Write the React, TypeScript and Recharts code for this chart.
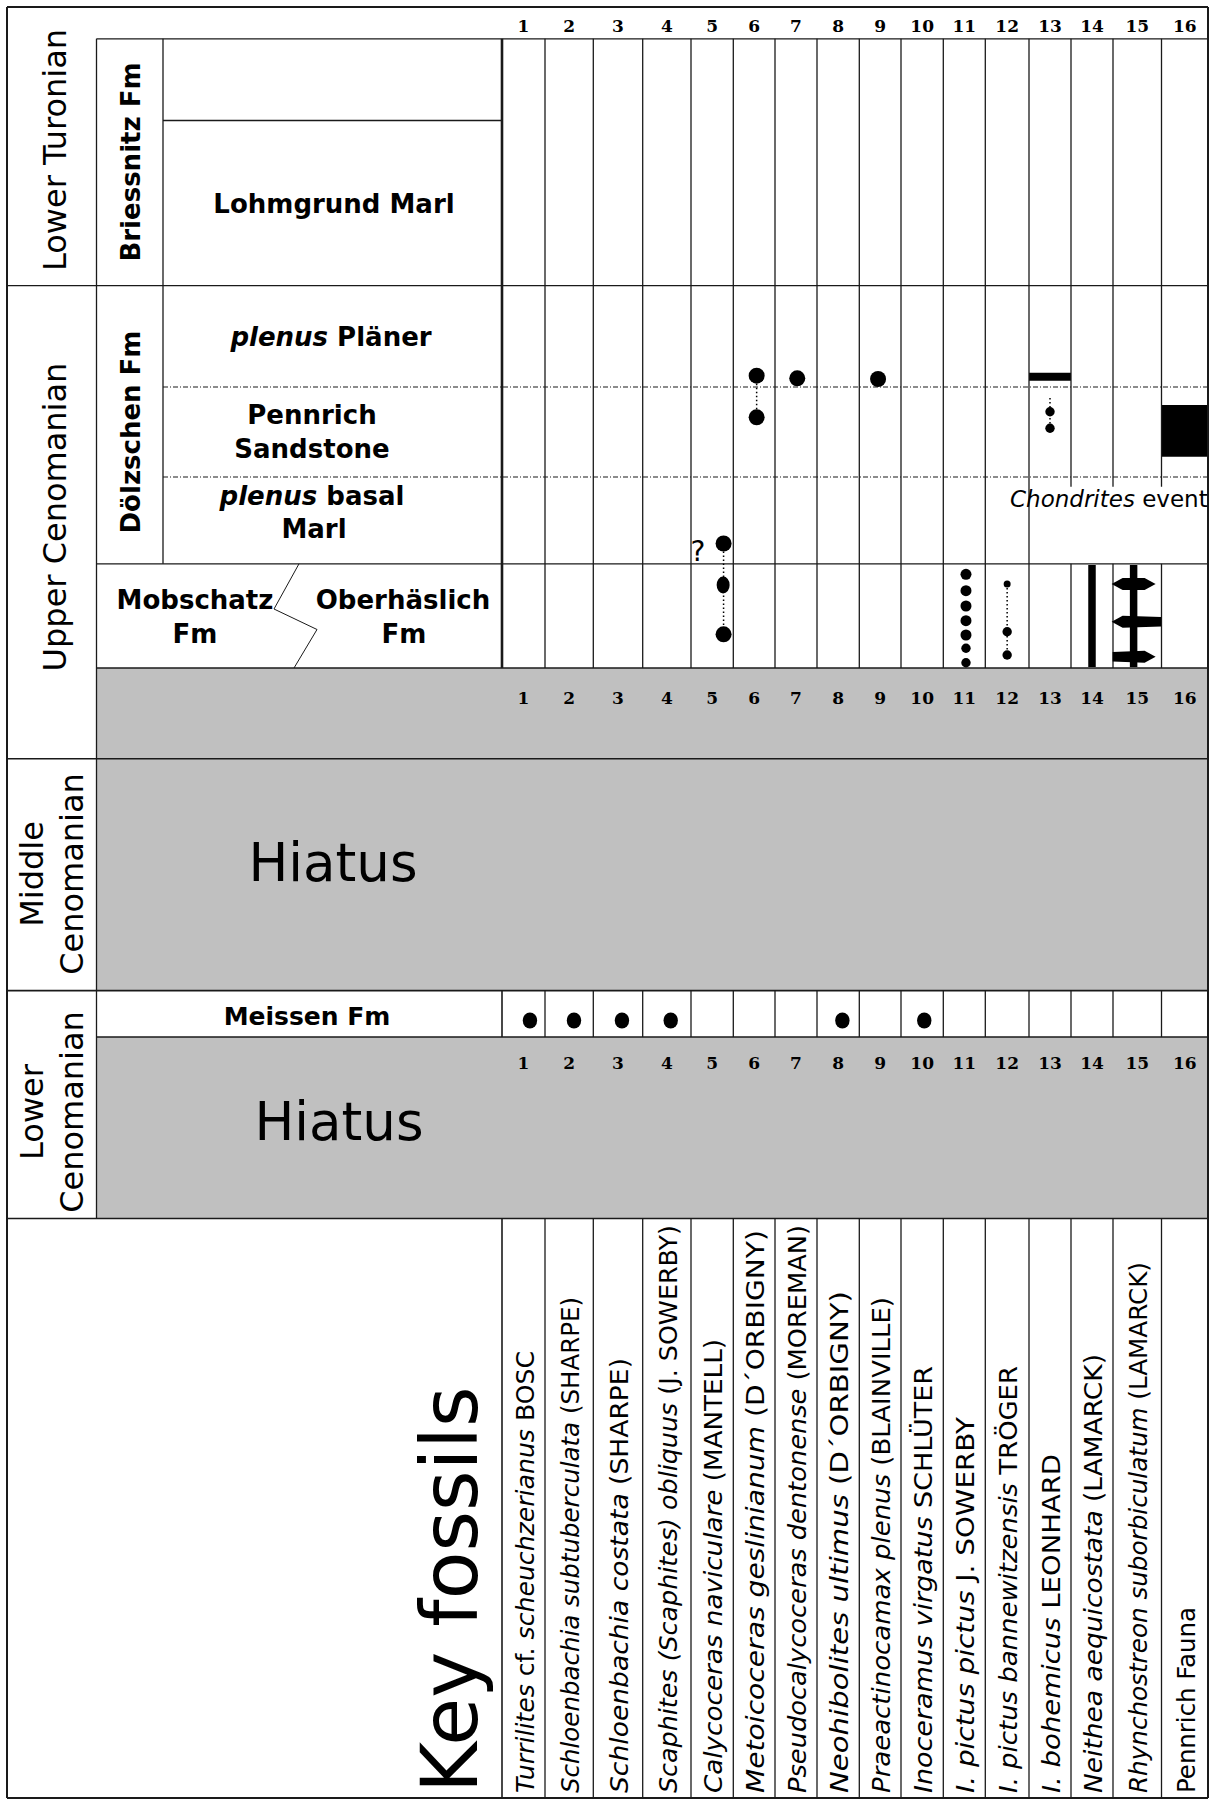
import React from "react";
import {
  ComposedChart,
  XAxis,
  YAxis,
  Scatter,
  ReferenceLine,
  ReferenceArea,
} from "recharts";

type Part = [string, boolean];
const it = (s: string): Part => [s, true];
const rm = (s: string): Part => [s, false];

// ---------- data ----------
const taxonNumbers = [1, 2, 3, 4, 5, 6, 7, 8, 9, 10, 11, 12, 13, 14, 15, 16];

const taxonNames: Part[][] = [
  [it("Turrilites"), rm(" cf. "), it("scheuchzerianus"), rm(" BOSC")],
  [it("Schloenbachia subtuberculata"), rm(" (SHARPE)")],
  [it("Schloenbachia costata"), rm(" (SHARPE)")],
  [it("Scaphites (Scaphites) obliquus"), rm(" (J. SOWERBY)")],
  [it("Calycoceras naviculare"), rm(" (MANTELL)")],
  [it("Metoicoceras geslinianum"), rm(" (D´ORBIGNY)")],
  [it("Pseudocalycoceras dentonense"), rm(" (MOREMAN)")],
  [it("Neohibolites ultimus"), rm(" (D´ORBIGNY)")],
  [it("Praeactinocamax plenus"), rm(" (BLAINVILLE)")],
  [it("Inoceramus virgatus"), rm(" SCHLÜTER")],
  [it("I. pictus pictus"), rm(" J. SOWERBY")],
  [it("I. pictus bannewitzensis"), rm(" TRÖGER")],
  [it("I. bohemicus"), rm(" LEONHARD")],
  [it("Neithea aequicostata"), rm(" (LAMARCK)")],
  [it("Rhynchostreon suborbiculatum"), rm(" (LAMARCK)")],
  [rm("Pennrich Fauna")],
];
// measured length of each name along the column
const taxonNameLength = [442, 496, 435, 568, 454, 563, 568, 502, 496, 427, 376, 427, 339, 439, 531, 186];

const stages = ["Lower Turonian", "Upper Cenomanian", "Middle Cenomanian", "Lower Cenomanian"];
const formations = ["Briessnitz Fm", "Dölzschen Fm"];

// point occurrences: taxon column (fraction = offset inside column), level (chart depth units)
const dotOccurrences = [
  { taxon: 5.27, level: 543.5, kind: "large" },
  { taxon: 5.26, level: 585, kind: "oval" },
  { taxon: 5.27, level: 634.3, kind: "large" },
  { taxon: 6.06, level: 375.7, kind: "large" },
  { taxon: 6.06, level: 417.3, kind: "large" },
  { taxon: 7.03, level: 378.3, kind: "large" },
  { taxon: 8.95, level: 379, kind: "large" },
  { taxon: 11.04, level: 574.3, kind: "medium" },
  { taxon: 11.04, level: 590.7, kind: "medium" },
  { taxon: 11.04, level: 606, kind: "medium" },
  { taxon: 11.04, level: 620.7, kind: "medium" },
  { taxon: 11.04, level: 635, kind: "medium" },
  { taxon: 11.04, level: 648.3, kind: "small" },
  { taxon: 11.04, level: 662.7, kind: "small" },
  { taxon: 12, level: 584, kind: "tiny" },
  { taxon: 12, level: 631.7, kind: "small" },
  { taxon: 12, level: 655, kind: "small" },
  { taxon: 13, level: 411.7, kind: "small" },
  { taxon: 13, level: 428.3, kind: "small" },
  { taxon: 1.15, level: 1020.5, kind: "meissen" },
  { taxon: 2.1, level: 1020.5, kind: "meissen" },
  { taxon: 3.08, level: 1020.5, kind: "meissen" },
  { taxon: 4.08, level: 1020.5, kind: "meissen" },
  { taxon: 8.1, level: 1020.5, kind: "meissen" },
  { taxon: 10.05, level: 1020.5, kind: "meissen" },
];

// uncertain ranges (dotted connectors)
const dottedRanges = [
  { taxon: 5.27, from: 543.5, to: 634.3 },
  { taxon: 6.06, from: 375.7, to: 417.3 },
  { taxon: 12, from: 584, to: 655 },
  { taxon: 13, from: 398, to: 428.3 },
];
// proven ranges (solid bars)
const solidRanges = [
  { taxon: 14, from: 565, to: 667 },
  { taxon: 14.925, from: 565, to: 667 },
];
// full-column blocks
const blocks = [
  { taxon: 13, from: 372.7, to: 380.7 },
  { taxon: 16, from: 405, to: 456.7 },
];
// abundance spindles on taxon 15
const spindles = [
  { taxon: 14.925, level: 584, left: "point", right: "point" },
  { taxon: 14.925, level: 621.7, left: "point", right: "flat" },
  { taxon: 14.925, level: 656.7, left: "flat", right: "point" },
];

// ---------- layout ----------
const W = 1212;
const H = 1803;
const SANS = "'DejaVu Sans', Verdana, sans-serif";
const SERIF = "'DejaVu Serif', Georgia, serif";
const INK = "#1a1a1a";

const colEdges = [502, 545, 593.3, 642.7, 691, 733.3, 775, 817, 859.3, 901, 943.3, 985.3, 1029, 1071, 1113, 1161.5, 1208];
const taxonX = (t: number) => {
  const i = Math.min(15, Math.max(0, Math.round(t) - 1));
  const l = colEdges[i];
  const r = colEdges[i + 1];
  return (l + r) / 2 + (t - (i + 1)) * (r - l);
};

const X_LEFT = 7, X_AGE = 96.5, X_FM = 163, X_TAXA = 502, X_RIGHT = 1208;
const Y_TOP = 7, Y_HEAD = 38.8, Y_BRIESS = 120.5, Y_TUR = 285.7, Y_DOT1 = 387, Y_DOT2 = 477,
  Y_CHOND = 486.7, Y_MOB = 563.8, Y_GAP1 = 668, Y_MID = 758.8, Y_MEIS = 990.6, Y_GAP2 = 1037,
  Y_KEY = 1218.5, Y_BOT = 1798;

type Seg = { x1: number; y1: number; x2: number; y2: number; w?: number; dash?: string };
const segs: Seg[] = [];
const h = (y: number, x1: number, x2: number, w = 1.3, dash?: string) => segs.push({ x1, y1: y, x2, y2: y, w, dash });
const v = (x: number, y1: number, y2: number, w = 1.3, dash?: string) => segs.push({ x1: x, y1, x2: x, y2, w, dash });

h(Y_HEAD, X_AGE, X_RIGHT);
h(Y_BRIESS, X_FM, X_TAXA);
h(Y_TUR, X_LEFT, X_RIGHT);
h(Y_DOT1, X_FM, X_RIGHT, 1.2, "5 2 1 2");
h(Y_DOT2, X_FM, X_RIGHT, 1.2, "5 2 1 2");
h(Y_MOB, X_AGE, X_RIGHT);
h(Y_GAP1, X_AGE, X_RIGHT, 1.6);
h(Y_MID, X_LEFT, X_RIGHT, 1.6);
h(Y_MEIS, X_LEFT, X_RIGHT, 1.6);
h(Y_GAP2, X_AGE, X_RIGHT, 1.6);
h(Y_KEY, X_LEFT, X_RIGHT, 1.6);
v(X_AGE, Y_HEAD, Y_KEY);
v(X_FM, Y_HEAD, Y_MOB);
v(X_TAXA, Y_HEAD, Y_GAP1, 2.6);
v(X_TAXA, Y_MEIS, Y_GAP2, 1.6);
v(X_TAXA, Y_KEY, Y_BOT, 1.6);
colEdges.slice(1, 16).forEach((x, i) => {
  if (i >= 12) {
    v(x, Y_HEAD, Y_CHOND);
    v(x, Y_MOB, Y_GAP1);
  } else {
    v(x, Y_HEAD, Y_GAP1);
  }
  v(x, Y_MEIS, Y_GAP2);
  v(x, Y_KEY, Y_BOT);
});
// Mobschatz / Oberhaslich interfingering
const zig = [[299, Y_MOB], [274, 609], [317, 629.5], [294, Y_GAP1]];
for (let i = 0; i < zig.length - 1; i++) {
  segs.push({ x1: zig[i][0], y1: zig[i][1], x2: zig[i + 1][0], y2: zig[i + 1][1], w: 1 });
}
// outer frame
h(Y_TOP, X_LEFT, X_RIGHT, 2);
h(Y_BOT, X_LEFT, X_RIGHT, 2);
v(X_LEFT, Y_TOP, Y_BOT, 2);
v(X_RIGHT, Y_TOP, Y_BOT, 2);

type Label = {
  x: number;
  y: number;
  parts: Part[];
  size: number;
  bold?: boolean;
  rotate?: boolean;
  anchor?: "start" | "middle" | "end";
  central?: boolean;
  serif?: boolean;
  len?: number;
};

const labels: Label[] = [
  { x: 55, y: 150, parts: [rm(stages[0])], size: 32, rotate: true, central: true },
  { x: 55, y: 517, parts: [rm(stages[1])], size: 32, rotate: true, central: true },
  { x: 32, y: 874, parts: [rm(stages[2].split(" ")[0])], size: 32, rotate: true, central: true },
  { x: 72, y: 874, parts: [rm(stages[2].split(" ")[1])], size: 32, rotate: true, central: true },
  { x: 32, y: 1112, parts: [rm(stages[3].split(" ")[0])], size: 32, rotate: true, central: true },
  { x: 72, y: 1112, parts: [rm(stages[3].split(" ")[1])], size: 32, rotate: true, central: true },
  { x: 131, y: 162, parts: [rm(formations[0])], size: 26, bold: true, rotate: true, central: true },
  { x: 131, y: 432, parts: [rm(formations[1])], size: 26, bold: true, rotate: true, central: true },
  { x: 334, y: 213.4, parts: [rm("Lohmgrund Marl")], size: 26, bold: true },
  { x: 331, y: 346, parts: [it("plenus"), rm(" Pläner")], size: 26, bold: true },
  { x: 312, y: 424, parts: [rm("Pennrich")], size: 26, bold: true },
  { x: 312, y: 457.6, parts: [rm("Sandstone")], size: 26, bold: true },
  { x: 312, y: 504.5, parts: [it("plenus"), rm(" basal")], size: 26, bold: true },
  { x: 314, y: 538, parts: [rm("Marl")], size: 26, bold: true },
  { x: 195, y: 609.4, parts: [rm("Mobschatz")], size: 26, bold: true },
  { x: 195, y: 643, parts: [rm("Fm")], size: 26, bold: true },
  { x: 403, y: 609.4, parts: [rm("Oberhäslich")], size: 26, bold: true },
  { x: 404, y: 643, parts: [rm("Fm")], size: 26, bold: true },
  { x: 307, y: 1025, parts: [rm("Meissen Fm")], size: 25, bold: true },
  { x: 333, y: 881, parts: [rm("Hiatus")], size: 53 },
  { x: 339, y: 1140, parts: [rm("Hiatus")], size: 53 },
  { x: 450, y: 1793, parts: [rm("Key fossils")], size: 78, rotate: true, central: true, anchor: "start" },
  { x: 1010, y: 507, parts: [it("Chondrites"), rm(" event")], size: 23, anchor: "start" },
  { x: 698, y: 561, parts: [rm("?")], size: 28 },
  ...[26, 697.5, 1063.4].flatMap((y) =>
    taxonNumbers.map((n) => ({ x: taxonX(n), y, parts: [rm(String(n))], size: 17, bold: true, serif: true, central: true }))
  ),
  ...taxonNames.map((parts, i) => ({
    x: taxonX(taxonNumbers[i]) + 1,
    y: 1793,
    parts,
    size: 25,
    rotate: true,
    central: true,
    anchor: "start" as const,
    len: taxonNameLength[i],
  })),
];

const TextShape = (props: any) => {
  const { cx, cy, payload } = props;
  const p = payload as Label;
  return (
    <text
      x={cx}
      y={cy}
      transform={p.rotate ? `rotate(-90 ${cx} ${cy})` : undefined}
      textAnchor={p.anchor ?? "middle"}
      dominantBaseline={p.central ? "central" : "alphabetic"}
      fontFamily={p.serif ? SERIF : SANS}
      fontSize={p.size}
      fontWeight={p.bold ? "bold" : "normal"}
      fill="#000"
      style={{ whiteSpace: "pre" }}
      textLength={p.len}
      lengthAdjust={p.len ? "spacingAndGlyphs" : undefined}
    >
      {p.parts.map(([t, ital], i) => (
        <tspan key={i} fontStyle={ital ? "italic" : "normal"}>
          {t}
        </tspan>
      ))}
    </text>
  );
};

const dotSize: Record<string, [number, number]> = {
  large: [8, 8],
  oval: [6.5, 8.5],
  medium: [5.5, 5.5],
  small: [4.7, 4.7],
  tiny: [3.5, 3.5],
  meissen: [7.2, 8],
};

const DotShape = (props: any) => {
  const { cx, cy, payload } = props;
  const [rx, ry] = dotSize[payload.kind];
  return <ellipse cx={cx} cy={cy} rx={rx} ry={ry} fill="#000" />;
};

const SpindleShape = (props: any) => {
  const { cx, cy, payload } = props;
  const hh = 6;
  const pts: number[][] = [];
  if (payload.left === "point") pts.push([cx - 22, cy], [cx - 11, cy - hh]);
  else pts.push([cx - 21, cy - hh * 0.8]);
  if (payload.right === "point") pts.push([cx + 11, cy - hh], [cx + 22, cy], [cx + 11, cy + hh]);
  else pts.push([cx + 27.5, cy - hh * 0.8], [cx + 27.5, cy + hh * 0.8]);
  if (payload.left === "point") pts.push([cx - 11, cy + hh]);
  else pts.push([cx - 21, cy + hh * 0.8]);
  return <polygon points={pts.map((p) => p.join(",")).join(" ")} fill="#000" />;
};

const textData = labels.map((l) => ({ ...l }));
const dotData = dotOccurrences.map((d) => ({ x: taxonX(d.taxon), y: d.level, kind: d.kind }));
const spindleData = spindles.map((s) => ({ x: taxonX(s.taxon), y: s.level, left: s.left, right: s.right }));

export default function App() {
  return (
    <div style={{ position: "absolute", left: 0, top: 0, width: W, height: H, background: "#fff" }}>
      <ComposedChart width={W} height={H} margin={{ top: 0, right: 0, bottom: 0, left: 0 }}>
        <XAxis type="number" dataKey="x" domain={[0, W]} hide allowDataOverflow />
        <YAxis type="number" dataKey="y" domain={[0, H]} reversed hide allowDataOverflow />
        <ReferenceArea x1={X_AGE} x2={X_RIGHT} y1={Y_GAP1} y2={Y_MEIS} fill="#c0c0c0" fillOpacity={1} stroke="none" />
        <ReferenceArea x1={X_AGE} x2={X_RIGHT} y1={Y_GAP2} y2={Y_KEY} fill="#c0c0c0" fillOpacity={1} stroke="none" />
        {segs.map((s, i) => (
          <ReferenceLine
            key={`s${i}`}
            segment={[{ x: s.x1, y: s.y1 }, { x: s.x2, y: s.y2 }]}
            stroke={INK}
            strokeWidth={s.w}
            strokeDasharray={s.dash}
            ifOverflow="visible"
          />
        ))}
        {blocks.map((b, i) => {
          const c = Math.round(b.taxon) - 1;
          return (
            <ReferenceArea
              key={`b${i}`}
              x1={colEdges[c]}
              x2={colEdges[c + 1]}
              y1={b.from}
              y2={b.to}
              fill="#000"
              fillOpacity={1}
              stroke="none"
            />
          );
        })}
        {solidRanges.map((r, i) => (
          <ReferenceLine
            key={`r${i}`}
            segment={[{ x: taxonX(r.taxon), y: r.from }, { x: taxonX(r.taxon), y: r.to }]}
            stroke="#000"
            strokeWidth={7.5}
          />
        ))}
        {dottedRanges.map((r, i) => (
          <ReferenceLine
            key={`d${i}`}
            segment={[{ x: taxonX(r.taxon), y: r.from }, { x: taxonX(r.taxon), y: r.to }]}
            stroke="#000"
            strokeWidth={1.5}
            strokeDasharray="1.5 2.5"
          />
        ))}
        <Scatter data={spindleData} shape={SpindleShape} isAnimationActive={false} />
        <Scatter data={dotData} shape={DotShape} isAnimationActive={false} />
        <Scatter data={textData} shape={TextShape} isAnimationActive={false} />
      </ComposedChart>
    </div>
  );
}
